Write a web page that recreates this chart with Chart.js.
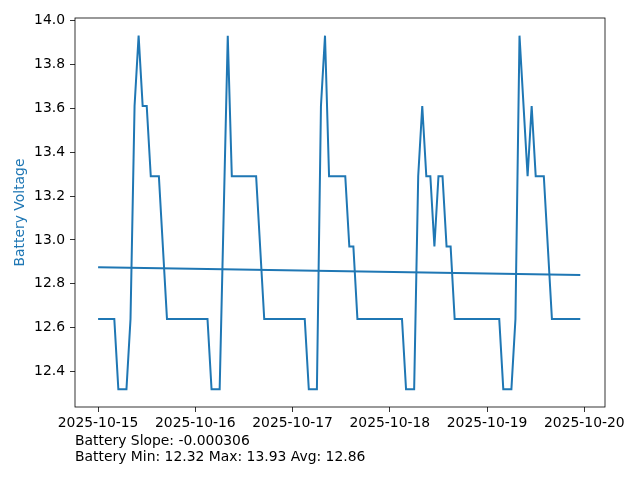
<!DOCTYPE html>
<html>
<head>
<meta charset="utf-8">
<script src="https://cdn.jsdelivr.net/npm/chart.js@4"></script>
<style>
  body { margin: 0; background: #fff; }
  #wrap { position: relative; width: 640px; height: 480px; }
  #stats {
    position: absolute; left: 75px; top: 432px;
    font-family: 'DejaVu Sans', sans-serif; font-size: 13.9px; line-height: 16px;
    color: #000; white-space: pre;
  }
</style>
</head>
<body>
<div id="wrap">
  <canvas id="chart" width="640" height="480"></canvas>
  <div id="stats">Battery Slope: -0.000306
Battery Min: 12.32 Max: 13.93 Avg: 12.86</div>
</div>
<script>
// Data (x in hours since 2025-10-15 00:00)
const hours = [0, 4, 5, 7, 8, 9, 10, 11, 12, 13, 15, 17,
    27, 28, 30, 32, 33, 39, 41,
    51, 52, 54, 55, 56, 57, 61, 62, 63, 64,
    75, 76, 78, 79, 80, 81, 82, 83, 84, 85, 86, 87, 88,
    99, 100, 102, 103, 104, 106, 107, 108, 110, 112, 119];
const voltage = [12.64, 12.64, 12.32, 12.32, 12.64, 13.61, 13.93, 13.61, 13.61, 13.29, 13.29, 12.64,
    12.64, 12.32, 12.32, 13.93, 13.29, 13.29, 12.64,
    12.64, 12.32, 12.32, 13.61, 13.93, 13.29, 13.29, 12.97, 12.97, 12.64,
    12.64, 12.32, 12.32, 13.29, 13.61, 13.29, 13.29, 12.97, 13.29, 13.29, 12.97, 12.97, 12.64,
    12.64, 12.32, 12.32, 12.64, 13.93, 13.29, 13.61, 13.29, 13.29, 12.64, 12.64];
const trendHours = [0, 119];
const trendValues = [12.876, 12.840];

const dateLabels = ['2025-10-15', '2025-10-16', '2025-10-17', '2025-10-18', '2025-10-19', '2025-10-20'];
const dateTicks = [0, 24, 48, 72, 96, 120];
const voltTicks = [12.4, 12.6, 12.8, 13.0, 13.2, 13.4, 13.6, 13.8, 14.0];

const blue = '#1f77b4';
const font = { family: "'DejaVu Sans', sans-serif", size: 13.9 };

// Frame round the plot area (matplotlib spines)
const framePlugin = {
    id: 'frame',
    afterDraw(chart) {
        const { ctx, chartArea: a } = chart;
        ctx.save();
        ctx.strokeStyle = '#000';
        ctx.lineWidth = 0.8;
        ctx.strokeRect(a.left, a.top, a.right - a.left, a.bottom - a.top);
        ctx.restore();
    }
};

new Chart(document.getElementById('chart').getContext('2d'), {
    type: 'line',
    data: {
        datasets: [
            {
                data: hours.map((h, i) => ({ x: h, y: voltage[i] })),
                borderColor: blue,
                borderWidth: 2,
                pointRadius: 0,
                tension: 0
            },
            {
                data: trendHours.map((h, i) => ({ x: h, y: trendValues[i] })),
                borderColor: blue,
                borderWidth: 2,
                pointRadius: 0,
                tension: 0
            }
        ]
    },
    options: {
        responsive: false,
        animation: false,
        layout: { padding: { top: 18, right: 35, left: 0, bottom: 0 } },
        plugins: { legend: { display: false }, tooltip: { enabled: false } },
        scales: {
            x: {
                type: 'linear',
                min: -5.7,
                max: 125.1,
                afterFit: (s) => { s.height = 73; },
                afterBuildTicks: (s) => { s.ticks = dateTicks.map(v => ({ value: v })); },
                border: { display: false },
                grid: { drawOnChartArea: false, drawTicks: true, tickLength: 5, color: '#000', lineWidth: 0.8 },
                ticks: {
                    color: '#000', font, padding: 3, maxRotation: 0, autoSkip: false,
                    callback: (v) => dateLabels[dateTicks.indexOf(v)]
                }
            },
            y: {
                min: 12.2395,
                max: 14.0105,
                afterFit: (s) => { s.width = 75; },
                afterBuildTicks: (s) => { s.ticks = voltTicks.map(v => ({ value: v })); },
                border: { display: false },
                grid: { drawOnChartArea: false, drawTicks: true, tickLength: 5, color: '#000', lineWidth: 0.8 },
                ticks: { color: '#000', font, padding: 5, callback: (v) => v.toFixed(1) },
                title: { display: true, text: 'Battery Voltage', color: blue, font, padding: { top: 12, bottom: 0 } }
            }
        }
    },
    plugins: [framePlugin]
});
</script>
</body>
</html>
